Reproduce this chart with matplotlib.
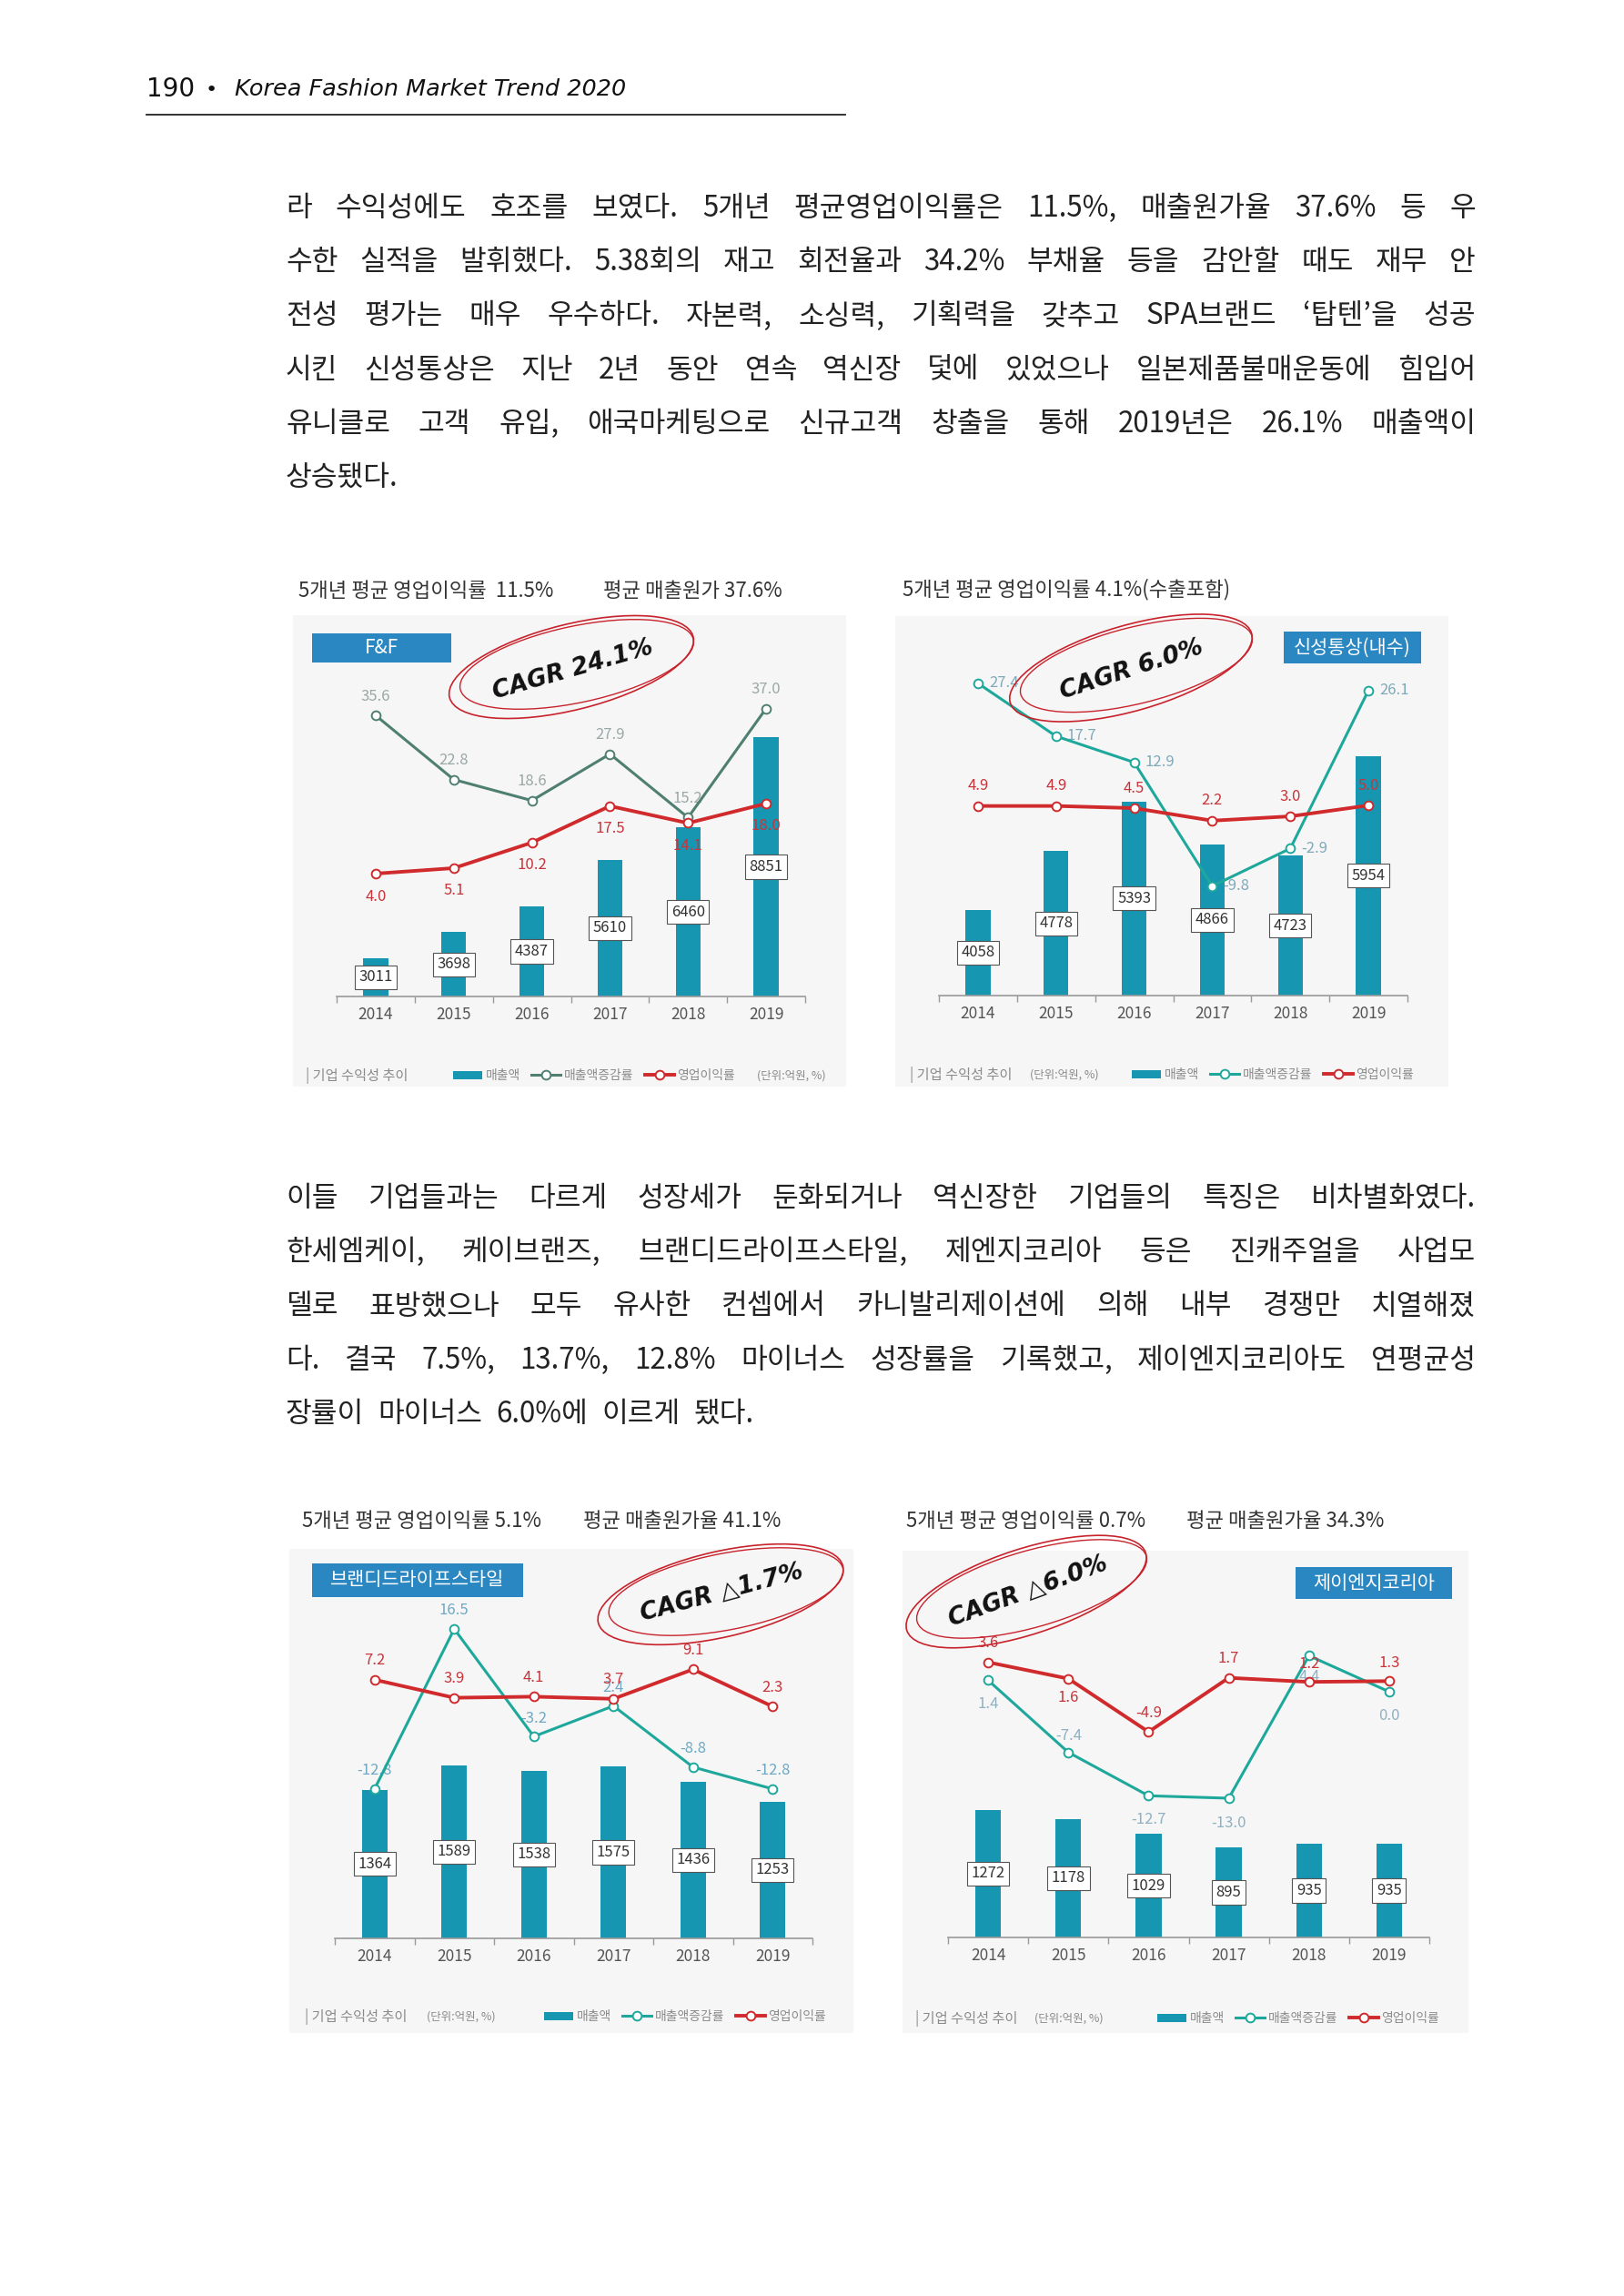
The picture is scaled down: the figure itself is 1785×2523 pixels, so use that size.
import matplotlib
matplotlib.use("Agg")
import matplotlib.pyplot as plt
from matplotlib.patches import Ellipse, Rectangle

W, H = 1785, 2523
plt.rcParams["font.family"] = ["Noto Sans CJK KR", "DejaVu Sans"]

# ---- data ----
years = [2014, 2015, 2016, 2017, 2018, 2019]
legend_labels = ["매출액", "매출액증감률", "영업이익률"]

ff_sales = [3011, 3698, 4387, 5610, 6460, 8851]
ff_growth = [35.6, 22.8, 18.6, 27.9, 15.2, 37.0]
ff_margin = [4.0, 5.1, 10.2, 17.5, 14.1, 18.0]

ss_sales = [4058, 4778, 5393, 4866, 4723, 5954]
ss_growth = [27.4, 17.7, 12.9, -9.8, -2.9, 26.1]
ss_margin = [4.9, 4.9, 4.5, 2.2, 3.0, 5.0]

bl_sales = [1364, 1589, 1538, 1575, 1436, 1253]
bl_growth = [-12.8, 16.5, -3.2, 2.4, -8.8, -12.8]
bl_margin = [7.2, 3.9, 4.1, 3.7, 9.1, 2.3]

jk_sales = [1272, 1178, 1029, 895, 935, 935]
jk_growth = [1.4, -7.4, -12.7, -13.0, 4.4, 0.0]
jk_margin = [3.6, 1.6, -4.9, 1.7, 1.2, 1.3]

para1 = [
    "라 수익성에도 호조를 보였다. 5개년 평균영업이익률은 11.5%, 매출원가율 37.6% 등 우",
    "수한 실적을 발휘했다. 5.38회의 재고 회전율과 34.2% 부채율 등을 감안할 때도 재무 안",
    "전성 평가는 매우 우수하다. 자본력, 소싱력, 기획력을 갖추고 SPA브랜드 ‘탑텐’을 성공",
    "시킨 신성통상은 지난 2년 동안 연속 역신장 덫에 있었으나 일본제품불매운동에 힘입어",
    "유니클로 고객 유입, 애국마케팅으로 신규고객 창출을 통해 2019년은 26.1% 매출액이",
    "상승됐다.",
]
para2 = [
    "이들 기업들과는 다르게 성장세가 둔화되거나 역신장한 기업들의 특징은 비차별화였다.",
    "한세엠케이, 케이브랜즈, 브랜디드라이프스타일, 제엔지코리아 등은 진캐주얼을 사업모",
    "델로 표방했으나 모두 유사한 컨셉에서 카니발리제이션에 의해 내부 경쟁만 치열해졌",
    "다. 결국 7.5%, 13.7%, 12.8% 마이너스 성장률을 기록했고, 제이엔지코리아도 연평균성",
    "장률이 마이너스 6.0%에 이르게 됐다.",
]

BAR = "#1796b2"
BOX = "#2b87c2"
RED = "#d02a2c"
TEAL = "#1ea89c"
PANEL = "#f6f6f6"
GREY = "#8a8a8a"

fig = plt.figure(figsize=(W / 100, H / 100), dpi=100)
fig.patch.set_facecolor("white")
page = fig.add_axes([0, 0, 1, 1])
page.set_xlim(0, W)
page.set_ylim(H, 0)
page.axis("off")
renderer = fig.canvas.get_renderer()


def fit_text(ax, x, y, s, width, **kw):
    t = ax.text(x, y, s, fontsize=10, va="center", ha="left", **kw)
    w = t.get_window_extent(renderer).width
    t.set_fontsize(10 * width / w)
    return t


def paragraph(lines, y0, step, x0=314, x1=1622, size=22.5):
    for k, line in enumerate(lines):
        y = y0 + k * step
        words = line.split(" ")
        arts = [page.text(0, y, w, fontsize=size, va="center", ha="left", color="#222")
                for w in words]
        widths = [a.get_window_extent(renderer).width for a in arts]
        last = k == len(lines) - 1
        gap = 15 if last else (x1 - x0 - sum(widths)) / (len(words) - 1)
        x = x0
        for a, w in zip(arts, widths):
            a.set_x(x)
            x += w + gap


# ---- header ----
fit_text(page, 161, 98, "190", 53, color="#111", family=["DejaVu Sans"])
page.text(232, 99, "•", fontsize=16, ha="center", va="center", color="#111",
          family=["DejaVu Sans"])
fit_text(page, 258, 98, "Korea Fashion Market Trend 2020", 429, style="italic",
         color="#111", family=["DejaVu Sans"])
page.plot([161, 929], [126, 126], color="#222", lw=1.3)

paragraph(para1, 229, 59.2)
paragraph(para2, 1317, 59.2)

FF = dict(panel=(322, 676, 608, 518), title_y=650,
          title=[(328, "5개년 평균 영업이익률  11.5%"), (663, "평균 매출원가 37.6%")],
          name="F&F", name_box=(343, 696, 153, 32),
          axes=(370, 885, 1095, 740), bar_scale=(2000, 0.0416), line_scale=(982, 5.5),
          gcol="#4f7f71", glab="#9aa8a6", gha="center",
          goff=[(0, 21)] * 6, moff=[(0, -25)] * 6,
          legend_y=1182, caption_x=336, unit_x=832, legend_x=498,
          cagr="CAGR 24.1%", cagr_xy=(630, 736), ell_xy=(628, 733), ang=14)
SS = dict(panel=(984, 677, 608, 517), title_y=648,
          title=[(992, "5개년 평균 영업이익률 4.1%(수출포함)")],
          name="신성통상(내수)", name_box=(1411, 694, 151, 35),
          axes=(1032, 1547, 1094, 740), bar_scale=(3000, 0.0892), line_scale=(915, 5.99),
          gcol=TEAL, glab="#7fa9b9", gha="left",
          goff=[(12, 0)] * 6, moff=[(0, 22)] * 6,
          legend_y=1181, caption_x=1000, unit_x=1132, legend_x=1244,
          cagr="CAGR 6.0%", cagr_xy=(1244, 736), ell_xy=(1243, 734), ang=16)
BL = dict(panel=(318, 1702, 620, 532), title_y=1672,
          title=[(332, "5개년 평균 영업이익률 5.1%"), (641, "평균 매출원가율 41.1%")],
          name="브랜디드라이프스타일", name_box=(343, 1718, 232, 37),
          axes=(368, 893, 2130, 1770), bar_scale=(0, 0.1198), line_scale=(1889, 6.0),
          gcol=TEAL, glab="#6fa8c4", gha="center",
          goff=[(0, 20)] * 6, moff=[(0, 21)] * 6,
          legend_y=2216, caption_x=335, unit_x=469, legend_x=598,
          cagr="CAGR △1.7%", cagr_xy=(793, 1750), ell_xy=(792, 1752), ang=13)
JK = dict(panel=(992, 1704, 622, 530), title_y=1672,
          title=[(996, "5개년 평균 영업이익률 0.7%"), (1304, "평균 매출원가율 34.3%")],
          name="제이엔지코리아", name_box=(1424, 1722, 172, 35),
          axes=(1042, 1571, 2129, 1780), bar_scale=(0, 0.1104), line_scale=(1859, 9.0),
          gcol=TEAL, glab="#8fb0c0", gha="center",
          goff=[(0, -26), (0, 18), (0, -26), (0, -27), (0, -23), (0, -26)],
          moff=[(0, 21), (0, -21), (0, 21), (0, 21), (0, 20), (0, 20)],
          legend_y=2218, caption_x=1006, unit_x=1137, legend_x=1272,
          cagr="CAGR △6.0%", cagr_xy=(1130, 1749), ell_xy=(1128, 1749), ang=18)


def draw_chart(c, sales, growth, margin):
    px, py, pw, ph = c["panel"]
    page.add_patch(Rectangle((px, py), pw, ph, fc=PANEL, ec="none", zorder=0))
    for x, s in c["title"]:
        page.text(x, c["title_y"], s, fontsize=16, color="#333", va="center")
    bx, by, bw, bh = c["name_box"]
    page.add_patch(Rectangle((bx, by), bw, bh, fc=BOX, ec="none", zorder=1))
    page.text(bx + bw / 2, by + bh / 2, c["name"], color="white", fontsize=15,
              ha="center", va="center", zorder=2)

    x0, x1, base, top = c["axes"]
    ax = fig.add_axes([x0 / W, 1 - base / H, (x1 - x0) / W, (base - top) / H])
    ax.patch.set_visible(False)
    v0, a = c["bar_scale"]
    ax.set_ylim(v0, v0 + (base - top) / a)
    ax.set_xlim(-0.5, len(years) - 0.5)
    xs = list(range(len(years)))
    bars = ax.bar(xs, sales, width=0.32, color=BAR)
    for i, v in enumerate(sales):
        ax.text(i, (v + v0) / 2, f"{v}", ha="center", va="center", fontsize=12, color="#333",
                bbox=dict(boxstyle="square,pad=0.28", fc="white", ec="#555", lw=0.8))
    for side in ("top", "left", "right"):
        ax.spines[side].set_visible(False)
    ax.spines["bottom"].set_color("#999")
    ax.spines["bottom"].set_linewidth(1.2)
    ax.set_yticks([])
    ax.set_xticks(xs)
    ax.set_xticklabels([str(y) for y in years])
    ax.set_xticks([i - 0.5 for i in range(len(years) + 1)], minor=True)
    ax.tick_params(axis="x", which="major", length=0, pad=8, labelsize=12.5, labelcolor="#555")
    ax.tick_params(axis="x", which="minor", length=5, width=1, color="#999", direction="out")

    axl = ax.twinx()
    z, s = c["line_scale"]
    axl.set_ylim((z - base) / s, (z - top) / s)
    for sp in axl.spines.values():
        sp.set_visible(False)
    axl.set_yticks([])
    lg, = axl.plot(xs, growth, color=c["gcol"], lw=2.2, marker="o", ms=7,
                   mfc="white", mec=c["gcol"], mew=1.4, zorder=3)
    lm, = axl.plot(xs, margin, color=RED, lw=2.8, marker="o", ms=7,
                   mfc="white", mec=RED, mew=1.4, zorder=4)
    for i, v in enumerate(growth):
        axl.annotate(f"{v:.1f}", (i, v), xytext=c["goff"][i], textcoords="offset pixels",
                     ha=c["gha"], va="center", fontsize=12, color=c["glab"], zorder=2)
    for i, v in enumerate(margin):
        axl.annotate(f"{v:.1f}", (i, v), xytext=c["moff"][i], textcoords="offset pixels",
                     ha="center", va="center", fontsize=12, color="#c8343a", zorder=5)

    ly = c["legend_y"]
    page.text(c["caption_x"], ly, "| 기업 수익성 추이", fontsize=11, color=GREY, va="center")
    page.text(c["unit_x"], ly, "(단위:억원, %)", fontsize=9, color=GREY, va="center")
    fig.legend([bars, lg, lm], legend_labels, loc="center left",
               bbox_to_anchor=(c["legend_x"] / W, 1 - ly / H), ncol=3, frameon=False,
               fontsize=10, labelcolor=GREY, handlelength=2.3, handleheight=0.6,
               handletextpad=0.25, columnspacing=0.9, borderpad=0, borderaxespad=0)


draw_chart(FF, ff_sales, ff_growth, ff_margin)
draw_chart(SS, ss_sales, ss_growth, ss_margin)
draw_chart(BL, bl_sales, bl_growth, bl_margin)
draw_chart(JK, jk_sales, jk_growth, jk_margin)

# ---- hand-drawn CAGR circles on top ----
over = fig.add_axes([0, 0, 1, 1])
over.set_xlim(0, W)
over.set_ylim(H, 0)
over.axis("off")
for c in (FF, SS, BL, JK):
    ex, ey = c["ell_xy"]
    over.add_patch(Ellipse((ex, ey), 276, 94, angle=-c["ang"], fill=False, ec="#c8232c", lw=1.2))
    over.add_patch(Ellipse((ex + 6, ey - 3), 262, 84, angle=-c["ang"] + 2, fill=False,
                           ec="#c8232c", lw=1.0))
    tx, ty = c["cagr_xy"]
    over.text(tx, ty, c["cagr"], family=["DejaVu Sans"], style="italic", weight="bold",
              fontsize=19, color="#111", ha="center", va="center", rotation=c["ang"] + 2)

fig.savefig("out.png", dpi=100, facecolor="white")
